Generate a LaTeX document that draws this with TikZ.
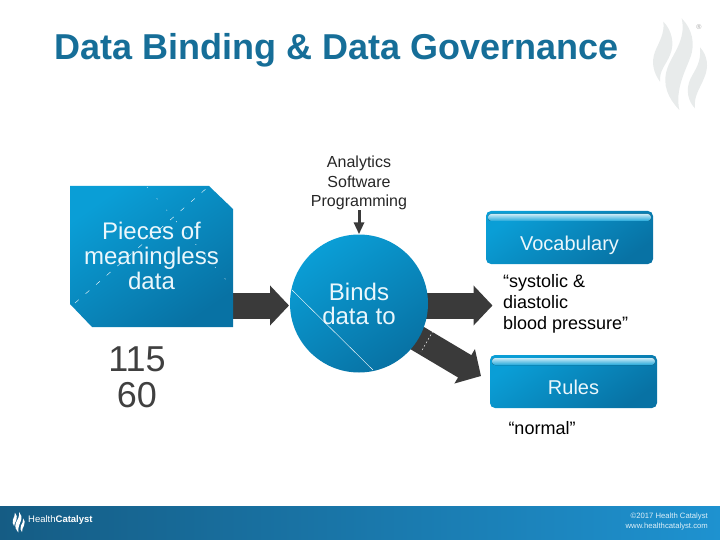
\documentclass[tikz,border=0pt]{standalone}
\usepackage{fontspec}
\setmainfont{Liberation Sans}
\usetikzlibrary{arrows.meta,positioning,backgrounds}
\definecolor{TitleBlue}{RGB}{22,110,152}
\definecolor{CardLight}{RGB}{10,158,214}
\definecolor{CardDark}{RGB}{8,114,164}
\definecolor{ArrowGray}{RGB}{58,58,58}
\definecolor{NumberGray}{RGB}{64,64,64}
\definecolor{MarkGray}{RGB}{232,235,235}
\definecolor{BandDark}{RGB}{21,92,132}
\definecolor{BandLight}{RGB}{30,146,208}
\tikzset{
  cardtext/.style={text=white!92!CardLight, align=center},
  bluecard/.style={left color=CardLight, right color=CardDark, shading angle=35},
  tabcard/.style={bluecard, cardtext, rounded corners=5pt, minimum width=167pt,
      minimum height=53pt, inner sep=0pt, font=\fontsize{20}{24}\selectfont},
  tabshine/.style={top color=white!78!CardLight, bottom color=CardLight!90!white,
      rounded corners=3pt},
  blockarrow/.style={draw=ArrowGray, line width=26pt,
      -{Triangle[length=19pt,width=39pt]}},
  crack/.style={draw=white, line width=0.4pt},
  flamemark/.pic={
    \fill (100,35) .. controls (125,60) and (135,100) .. (120,135)
      .. controls (108,165) and (88,180) .. (90,215)
      .. controls (72,190) and (62,160) .. (75,125)
      .. controls (85,100) and (105,70) .. (100,35) -- cycle;
    \fill (155,25) .. controls (185,55) and (198,100) .. (180,145)
      .. controls (165,185) and (135,240) .. (148,300)
      .. controls (115,265) and (95,225) .. (112,175)
      .. controls (125,135) and (170,90) .. (155,25) -- cycle;
    \fill (210,112) .. controls (232,135) and (238,170) .. (222,205)
      .. controls (210,235) and (190,260) .. (195,295)
      .. controls (175,275) and (165,240) .. (182,205)
      .. controls (195,180) and (215,155) .. (210,112) -- cycle;
  }
}

\begin{document}
\begin{tikzpicture}[x=1pt,y=-1pt]
\useasboundingbox (0,0) rectangle (720,540);

\pic[MarkGray, scale=1/3] at (630,10) {flamemark};
\node[text=gray!70, font=\fontsize{7}{7}\selectfont, inner sep=0pt] (regmark) at (699,27) {®};
\node[text=TitleBlue, font=\bfseries\fontsize{36}{40}\selectfont, anchor=base west, inner sep=0pt]
      (slidetitle) at (54,60) {Data Binding \& Data Governance};

\shade[bluecard] (70,186) -- (209,186) -- (233,209) -- (233,327) -- (92,327) -- (70,304) -- cycle;
\node[cardtext, minimum width=163pt, minimum height=141pt, inner sep=0pt,
      font=\fontsize{24}{25}\selectfont] (piecescard) at (151.5,255.5)
      {Pieces of\\meaningless\\data};
\node[text=NumberGray, align=center, font=\fontsize{36}{36}\selectfont, inner sep=0pt,
      below=20pt of piecescard.south, xshift=-14.5pt] (bpvalues) {115\\60};
\draw[crack, dash pattern=on 5pt off 9pt] (75,303) -- (208,187);
\draw[crack, dash pattern=on 1pt off 14pt] (147,187) -- (232,287);

\node[bluecard, cardtext, circle, minimum size=138pt, inner sep=0pt,
      font=\fontsize{24}{24}\selectfont] (bindcircle) at (359,303.5)
      {\raisebox{-3pt}{\parbox{80pt}{\centering Binds\\data to}}};
\draw[crack] (292,290) -- (373,370);

\node[align=center, inner sep=0pt, text=black!85, font=\fontsize{16}{19.5}\selectfont,
      above=24pt of bindcircle.north] (toolslabel) {Analytics\\Software\\Programming};
\draw[draw=ArrowGray, line width=3pt, -{Triangle[length=12pt,width=10pt]}]
      (toolslabel) -- (bindcircle);

\node[tabcard] (vocabtab) at (569.5,237.5) {\raisebox{-12.5pt}[0pt][0pt]{Vocabulary}};
\fill[tabshine] (488,221) -- (488,214) -- (651,214) -- (651,221) -- cycle;
\node[tabcard] (rulestab) at (573.5,381.5) {\raisebox{-12.5pt}[0pt][0pt]{Rules}};
\fill[tabshine] (492,365) -- (492,358) -- (655,358) -- (655,365) -- cycle;

\node[align=left, inner sep=0pt, anchor=north west, font=\fontsize{18}{21}\selectfont]
      (vocabnote) at (503,274) {“systolic \&\\diastolic\\blood pressure”};
\node[inner sep=0pt, font=\fontsize{18}{21}\selectfont] (rulesnote) at (542,428) {“normal”};

\coordinate (bindin) at (289,305.5);
\coordinate (vocabin) at (492.5,305.5);
\coordinate (rulesin) at (481,376);
\begin{pgfonlayer}{background}
\draw[blockarrow] (piecescard.center |- bindin) -- (bindin);
\draw[blockarrow] (bindcircle.center |- vocabin) -- (vocabin);
\draw[blockarrow] (bindcircle.center) -- (rulesin);
\end{pgfonlayer}
\draw[crack, dash pattern=on 2pt off 2pt] (433,331) -- (421,352);

\shade[left color=BandDark, right color=BandLight] (0,506) rectangle (720,540);
\pic[white, scale=0.075] at (7.4,510) {flamemark};
\node[text=white, font=\fontsize{9.5}{12}\selectfont, anchor=west, inner sep=0pt]
      (logotext) at (28,520.5) {Health\textbf{Catalyst}};
\node[text=white!85!BandLight, align=right, anchor=east, inner sep=0pt,
      font=\fontsize{7.7}{10}\selectfont] (copyright) at (708,522)
      {©2017 Health Catalyst\\www.healthcatalyst.com};
\end{tikzpicture}
\end{document}
